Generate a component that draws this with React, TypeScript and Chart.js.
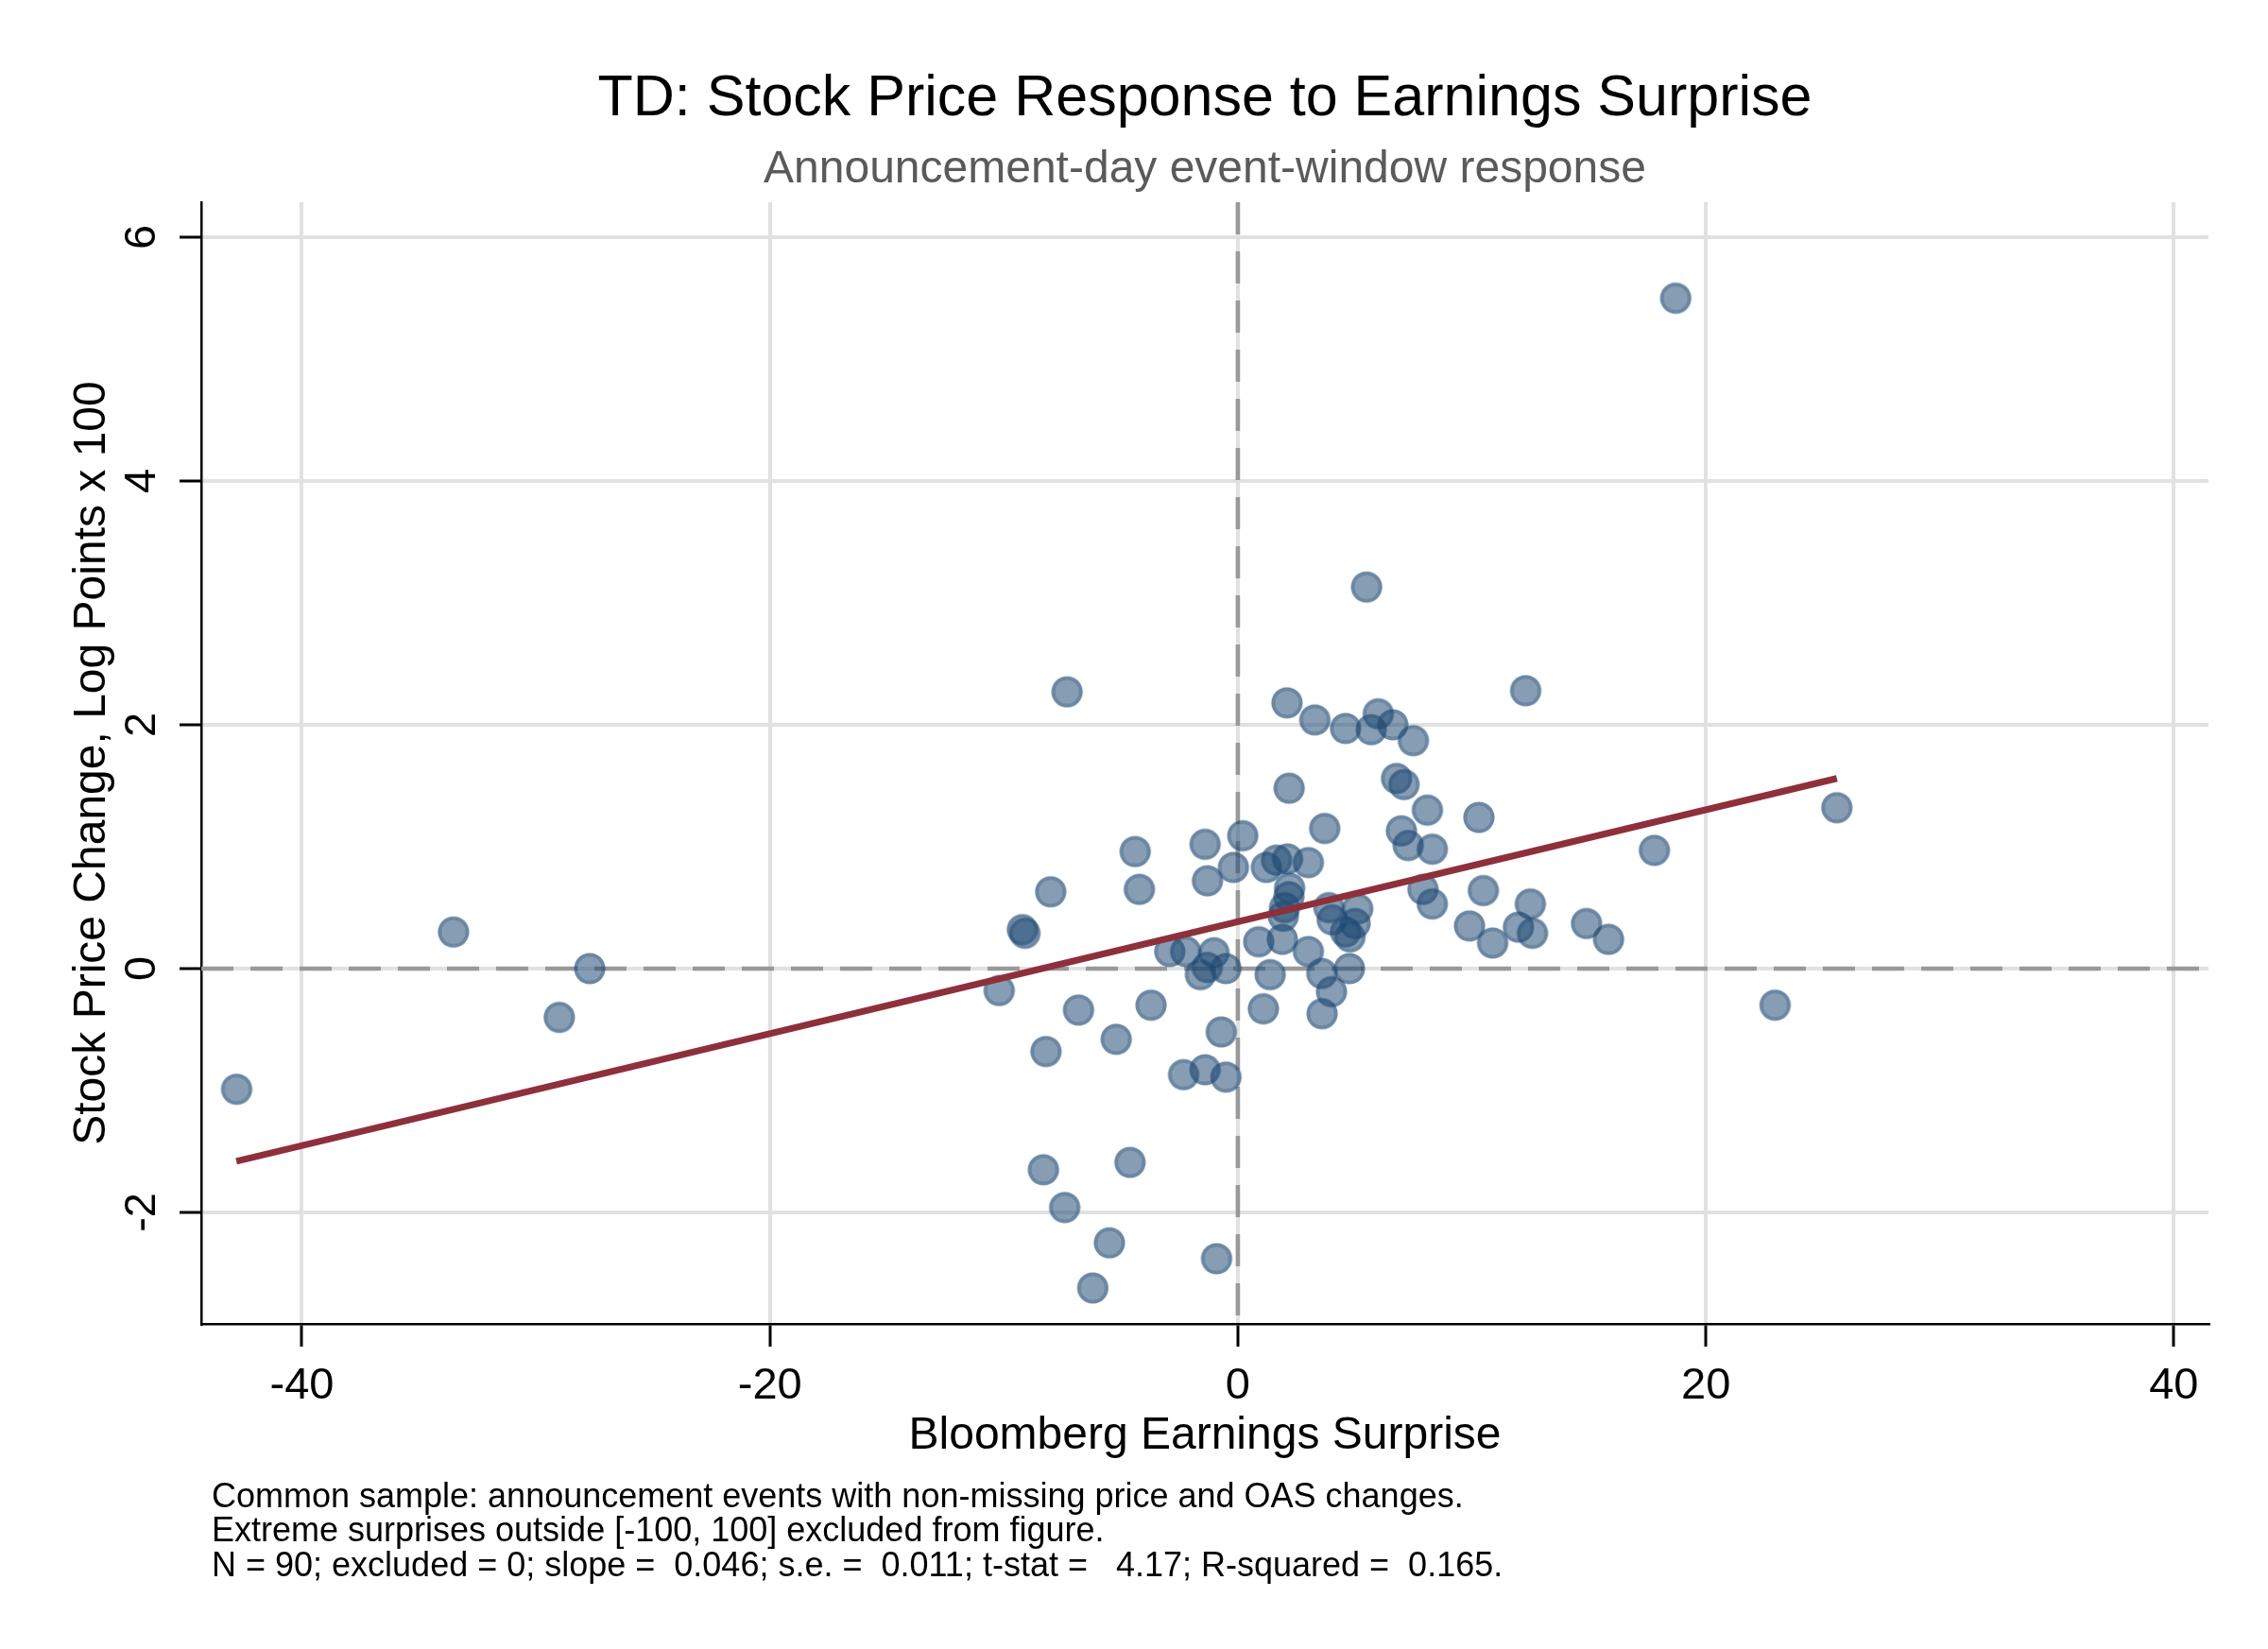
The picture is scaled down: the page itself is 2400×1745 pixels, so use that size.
import React, { useEffect, useRef } from "react";
import { Chart, registerables } from "chart.js";

Chart.register(...registerables);

// Bloomberg earnings surprise (x) and stock price change, log points x 100 (y)
const surpriseX = [
  5.5, -7.3, 2.1, 3.29, 4.6, 6.0, 5.7, 6.62, 7.5, 12.3,
  2.19, 6.78, 7.1, 8.1, 10.3, 3.71, 6.99, 7.28, 8.31, -4.39,
  -1.4, 0.21, -0.19, -1.3, -4.21, -8.0, 1.22, 1.65, 2.12, 3.01,
  2.21, 2.18, 2.0, 1.94, 3.89, 4.03, 5.12, 5.01, 4.79, 4.6,
  7.91, 8.31, 10.49, 12.5, 9.9, 10.89, 11.99, 12.59, 14.9, 15.84,
  0.89, 1.9, 3.01, 3.59, 4.0, 4.77, 1.38, -2.91, -2.23, -1.02,
  -1.31, -1.6, -0.51, -9.21, -9.1, -10.2, -6.81, -3.71, -5.2, -8.2,
  -0.71, 1.09, 3.6, -2.32, -1.4, -0.51, -8.31, -4.61, -7.4, -5.49,
  -0.91, -6.2, 18.71, 25.6, 17.8, -33.52, -27.7, -29.0, -42.79, 22.96,
];
const priceChangeY = [
  3.13, 2.27, 2.18, 2.04, 1.97, 2.09, 1.96, 2.0, 1.87, 2.28,
  1.48, 1.56, 1.51, 1.3, 1.24, 1.15, 1.13, 1.01, 0.98, 0.96,
  1.02, 1.09, 0.83, 0.72, 0.65, 0.63, 0.83, 0.89, 0.9, 0.87,
  0.66, 0.59, 0.5, 0.43, 0.5, 0.4, 0.49, 0.37, 0.26, 0.3,
  0.65, 0.53, 0.64, 0.53, 0.35, 0.21, 0.34, 0.29, 0.37, 0.24,
  0.22, 0.24, 0.14, -0.04, -0.19, 0.0, -0.05, 0.14, 0.14, 0.13,
  0.01, -0.05, 0.0, 0.32, 0.29, -0.18, -0.34, -0.3, -0.58, -0.68,
  -0.52, -0.33, -0.37, -0.87, -0.83, -0.89, -1.65, -1.59, -1.96, -2.25,
  -2.38, -2.62, 5.5, 1.32, 0.97, 0.3, 0.0, -0.4, -0.99, -0.3,
];

// Fitted OLS line endpoints (over the data range)
const fitX = [-42.8, 25.6];
const fitY = [-1.58, 1.56];

const xTicks = [-40, -20, 0, 20, 40];
const yTicks = [-2, 0, 2, 4, 6];

const titleText = "TD: Stock Price Response to Earnings Surprise";
const subtitleText = "Announcement-day event-window response";
const xTitle = "Bloomberg Earnings Surprise";
const yTitle = "Stock Price Change, Log Points x 100";
const notes = [
  "Common sample: announcement events with non-missing price and OAS changes.",
  "Extreme surprises outside [-100, 100] excluded from figure.",
  "N = 90; excluded = 0; slope =  0.046; s.e. =  0.011; t-stat =   4.17; R-squared =  0.165.",
];

const FONT = '"Liberation Sans", Arial, Helvetica, sans-serif';

function makeMarker(): HTMLCanvasElement {
  const size = 36;
  const c = document.createElement("canvas");
  c.width = size;
  c.height = size;
  const g = c.getContext("2d")!;
  const m = size / 2;
  const outer = 16.6;
  const inner = 12.2;
  // outline ring
  g.beginPath();
  g.arc(m, m, outer, 0, Math.PI * 2);
  g.arc(m, m, inner, 0, Math.PI * 2, true);
  g.fillStyle = "rgba(31,73,115,0.66)";
  g.fill("evenodd");
  // inner fill
  g.beginPath();
  g.arc(m, m, inner, 0, Math.PI * 2);
  g.fillStyle = "rgba(31,73,115,0.54)";
  g.fill();
  return c;
}

export default function App() {
  const ref = useRef<HTMLCanvasElement | null>(null);

  useEffect(() => {
    const canvas = ref.current;
    if (!canvas) return;

    const zeroLines = {
      id: "zeroLines",
      beforeDatasetsDraw(chart: any) {
        const { ctx, chartArea, scales } = chart;
        const x0 = scales.x.getPixelForValue(0);
        const y0 = scales.y.getPixelForValue(0);
        ctx.save();
        ctx.strokeStyle = "#999999";
        ctx.lineWidth = 4.6;
        ctx.setLineDash([34, 18]);
        ctx.beginPath();
        ctx.moveTo(chartArea.left, y0);
        ctx.lineTo(chartArea.right, y0);
        ctx.stroke();
        ctx.beginPath();
        ctx.moveTo(x0, chartArea.top);
        ctx.lineTo(x0, chartArea.bottom);
        ctx.stroke();
        ctx.restore();
      },
    };

    const footnotes = {
      id: "footnotes",
      afterDraw(chart: any) {
        const { ctx } = chart;
        ctx.save();
        ctx.font = `36px ${FONT}`;
        ctx.fillStyle = "#000";
        ctx.textAlign = "left";
        ctx.textBaseline = "alphabetic";
        const baselines = [1594.5, 1630.5, 1667.5];
        notes.forEach((t, i) => ctx.fillText(t, 224, baselines[i]));
        ctx.restore();
      },
    };

    const marker = makeMarker();
    const points = surpriseX.map((x, i) => ({ x, y: priceChangeY[i] }));
    const fit = fitX.map((x, i) => ({ x, y: fitY[i] }));

    const chart = new Chart(canvas, {
      type: "scatter",
      data: {
        datasets: [
          {
            label: "Fit",
            data: fit,
            showLine: true,
            borderColor: "#8e303b",
            borderWidth: 7,
            pointRadius: 0,
            order: 0,
          },
          {
            label: "Events",
            data: points,
            pointStyle: marker,
            pointRadius: 16.6,
            backgroundColor: "rgba(31,73,115,0.54)",
            borderColor: "rgba(31,73,115,0.66)",
            order: 1,
          },
        ],
      },
      options: {
        animation: false,
        responsive: false,
        events: [],
        layout: { padding: { left: 0, right: 63, top: 0, bottom: 196.1 } },
        plugins: {
          legend: { display: false },
          tooltip: { enabled: false },
          title: {
            display: true,
            text: titleText,
            fullSize: false,
            color: "#000",
            font: { family: FONT, size: 61, weight: "normal", lineHeight: 1.2 },
            padding: { top: 68.3, bottom: 0 },
          },
          subtitle: {
            display: true,
            text: subtitleText,
            fullSize: false,
            color: "#5a5a5a",
            font: { family: FONT, size: 48, weight: "normal", lineHeight: 1.2 },
            padding: { top: 9.7, bottom: 5.2 },
          },
        },
        scales: {
          x: {
            type: "linear",
            min: -44.3,
            max: 41.48,
            afterBuildTicks: (s: any) => {
              s.ticks = xTicks.map((v) => ({ value: v }));
            },
            afterFit: (s: any) => {
              s.height = 147.9;
            },
            ticks: {
              color: "#000",
              font: { family: FONT, size: 47 },
              padding: 13.5,
              maxRotation: 0,
              minRotation: 0,
            },
            grid: {
              color: "#e1e1e1",
              lineWidth: 4,
              drawTicks: true,
              tickColor: "#000",
              tickLength: 24,
              tickWidth: 3,
            },
            border: { display: true, color: "#000", width: 2.5 },
            title: {
              display: true,
              text: xTitle,
              color: "#000",
              font: { family: FONT, size: 48, lineHeight: 1.2 },
              padding: { top: 0, bottom: 0 },
            },
          },
          y: {
            type: "linear",
            min: -2.915,
            max: 6.287,
            afterBuildTicks: (s: any) => {
              s.ticks = yTicks.map((v) => ({ value: v }));
            },
            afterFit: (s: any) => {
              s.width = 213;
            },
            ticks: {
              color: "#000",
              font: { family: FONT, size: 47 },
              padding: 18,
              minRotation: 90,
              maxRotation: 90,
              crossAlign: "center",
            },
            grid: {
              color: "#e1e1e1",
              lineWidth: 4,
              drawTicks: true,
              tickColor: "#000",
              tickLength: 23,
              tickWidth: 3,
            },
            border: { display: true, color: "#000", width: 2.5 },
            title: {
              display: true,
              text: yTitle,
              color: "#000",
              font: { family: FONT, size: 48, lineHeight: 1.2 },
              padding: { top: 68.7, bottom: 0 },
            },
          },
        },
      } as any,
      plugins: [zeroLines, footnotes],
    });

    return () => chart.destroy();
  }, []);

  return (
    <div
      style={{
        position: "fixed",
        left: 0,
        top: 0,
        width: 2400,
        height: 1745,
        background: "#ffffff",
      }}
    >
      <canvas ref={ref} width={2400} height={1745} style={{ width: 2400, height: 1745, display: "block" }} />
    </div>
  );
}
